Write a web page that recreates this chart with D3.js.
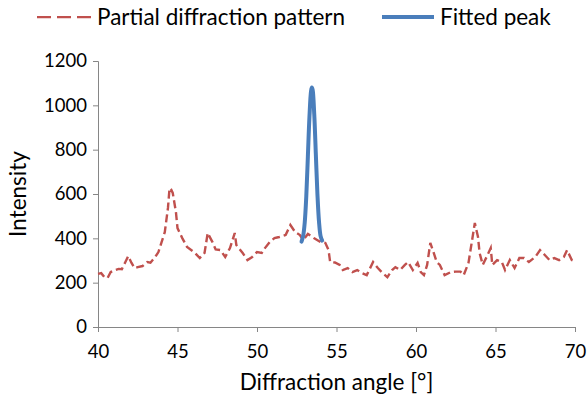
<!DOCTYPE html>
<html>
<head>
<meta charset="utf-8">
<script src="https://cdn.jsdelivr.net/npm/d3@7"></script>
<style>
    body { margin: 0; background: #fff; }
    svg text { font-family: Lato, "Open Sans", sans-serif; fill: #000; }
</style>
</head>
<body>
<svg id="chart" width="587" height="400"></svg>
<script>
// Partial diffraction pattern
const patternAngles = [
    40.0, 40.2, 40.4, 40.6, 40.8, 41.1, 41.3, 41.5, 41.7, 41.9, 42.1, 42.3, 42.5, 42.8, 43.1, 43.3,
    43.6, 43.8, 44.0, 44.2, 44.4, 44.5, 44.6, 44.7, 44.9, 45.0, 45.3, 45.6, 45.9, 46.1, 46.4, 46.7,
    46.9, 47.0, 47.2, 47.4, 47.7, 48.0, 48.3, 48.6, 48.7, 49.1, 49.4, 49.7, 50.0, 50.3, 50.5, 50.8,
    51.1, 51.4, 51.8, 52.1, 52.4, 52.7, 52.9, 53.2, 53.6, 54.0, 54.3, 54.5, 54.6, 54.9, 55.2, 55.4,
    55.7, 56.0, 56.3, 56.6, 56.9, 57.3, 57.6, 57.9, 58.2, 58.5, 58.7, 59.0, 59.3, 59.5, 59.8, 60.1,
    60.3, 60.5, 60.7, 60.9, 61.1, 61.3, 61.5, 61.8, 62.2, 62.5, 62.8, 63.0, 63.3, 63.5, 63.7, 63.9,
    64.0, 64.2, 64.5, 64.7, 64.8, 65.1, 65.4, 65.6, 65.9, 66.2, 66.5, 66.8, 67.1, 67.5, 67.8, 68.1,
    68.4, 68.7, 69.0, 69.3, 69.5, 69.8, 70.0
];
const patternIntensity = [
    240, 243, 225, 221, 248, 257, 262, 261, 290, 320, 290, 266, 270, 275, 293, 290,
    316, 338, 383, 428, 537, 627, 620, 605, 519, 446, 401, 361, 345, 334, 311, 334,
    424, 410, 383, 350, 347, 316, 356, 424, 370, 334, 302, 316, 338, 334, 356, 383,
    401, 406, 415, 460, 428, 415, 392, 420, 400, 383, 379, 347, 293, 291, 280, 257,
    266, 248, 257, 243, 234, 293, 266, 243, 225, 257, 270, 257, 280, 293, 257, 289,
    248, 234, 280, 379, 338, 293, 280, 234, 248, 250, 250, 234, 289, 379, 469, 406,
    334, 280, 325, 356, 280, 302, 293, 257, 302, 266, 311, 311, 293, 316, 347, 325,
    302, 311, 302, 316, 347, 302, 295
];

// Fitted peak
const fitAngles = [52.8, 52.9, 53.0, 53.1, 53.2, 53.3, 53.4, 53.45, 53.5, 53.6, 53.7, 53.8, 53.9, 54.0, 54.1];
const fitIntensity = [385, 410, 470, 590, 770, 950, 1065, 1080, 1070, 960, 780, 600, 475, 410, 390];

const xTicks = [40, 45, 50, 55, 60, 65, 70];
const yTicks = [0, 200, 400, 600, 800, 1000, 1200];
const seriesNames = ["Partial diffraction pattern", "Fitted peak"];
const axisTitles = ["Diffraction angle [°]", "Intensity"];

const RED = "#c0504d";
const BLUE = "#4a7ebb";
const AXIS = "#868686";

const svg = d3.select("#chart");
const x = d3.scaleLinear().domain([40, 70]).range([98, 575]);
const y = d3.scaleLinear().domain([0, 1200]).range([327, 61]);

// Axes
const xAxis = svg.append("g")
    .attr("transform", `translate(0,${y(0)})`)
    .call(d3.axisBottom(x).tickValues(xTicks).tickSize(5).tickPadding(13).tickFormat(d3.format("d")));
const yAxis = svg.append("g")
    .attr("transform", `translate(${x(40)},0)`)
    .call(d3.axisLeft(y).tickValues(yTicks).tickSize(5).tickPadding(6).tickFormat(d3.format("d")));

[xAxis, yAxis].forEach(g => {
    g.select(".domain").attr("stroke", AXIS).attr("stroke-width", 1);
    g.selectAll(".tick line").attr("stroke", AXIS);
    g.selectAll(".tick text")
        .attr("font-size", 18.5)
        .attr("font-family", "Lato, 'Open Sans', sans-serif")
        .attr("fill", "#000");
});

// Axis titles
svg.append("text")
    .attr("x", (x(40) + x(70)) / 2)
    .attr("y", 390)
    .attr("text-anchor", "middle")
    .attr("font-size", 22.5)
    .text(axisTitles[0]);
svg.append("text")
    .attr("transform", `translate(26,${(y(0) + y(1200)) / 2}) rotate(-90)`)
    .attr("text-anchor", "middle")
    .attr("font-size", 22.5)
    .text(axisTitles[1]);

// Series
const pattern = patternAngles.map((a, i) => [a, patternIntensity[i]]);
const fit = fitAngles.map((a, i) => [a, fitIntensity[i]]);
const line = d3.line().x(d => x(d[0])).y(d => y(d[1]));

svg.append("path")
    .datum(pattern)
    .attr("d", line)
    .attr("fill", "none")
    .attr("stroke", RED)
    .attr("stroke-width", 2.4)
    .attr("stroke-dasharray", "8,4");

svg.append("path")
    .datum(fit)
    .attr("d", line.curve(d3.curveCatmullRom))
    .attr("fill", "none")
    .attr("stroke", BLUE)
    .attr("stroke-width", 4)
    .attr("stroke-linecap", "round")
    .attr("stroke-linejoin", "round");

// Legend
const legend = svg.append("g");
legend.append("line")
    .attr("x1", 37).attr("x2", 92).attr("y1", 17).attr("y2", 17)
    .attr("stroke", RED).attr("stroke-width", 2.25).attr("stroke-dasharray", "14,6");
legend.append("text")
    .attr("x", 97).attr("y", 25)
    .attr("font-size", 22.5)
    .text(seriesNames[0]);
legend.append("line")
    .attr("x1", 382).attr("x2", 434).attr("y1", 17).attr("y2", 17)
    .attr("stroke", BLUE).attr("stroke-width", 4);
legend.append("text")
    .attr("x", 440).attr("y", 25)
    .attr("font-size", 22.5)
    .text(seriesNames[1]);
</script>
</body>
</html>
